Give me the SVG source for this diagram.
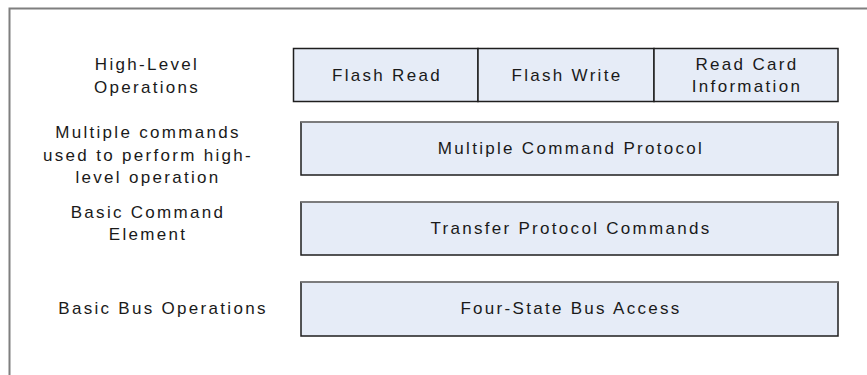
<svg xmlns="http://www.w3.org/2000/svg" width="867" height="375" viewBox="0 0 867 375">
<style>
.box{fill:#E6ECF7;stroke:#1e1e1e;stroke-width:1.5}
.edge{stroke:#8a8a8a;stroke-width:1.5}
.t{font-family:"Liberation Sans",Arial,sans-serif;font-size:17px;fill:#1a1a1a;letter-spacing:2.3px;text-anchor:middle}
.frame{fill:none;stroke:#7f7f7f;stroke-width:2}
</style>
<rect width="867" height="375" fill="#ffffff"/>
<path class="frame" d="M9.5 375 V8.5 H867"/>
<g id="label-high-level">
<text class="t" x="147" y="70">High-Level</text>
<text class="t" x="147" y="93">Operations</text>
</g>
<g id="label-multiple">
<text class="t" x="148" y="138">Multiple commands</text>
<text class="t" x="148" y="161">used to perform high-</text>
<text class="t" x="148" y="183">level operation</text>
</g>
<g id="label-basic-command">
<text class="t" x="148" y="218">Basic Command</text>
<text class="t" x="148" y="240">Element</text>
</g>
<g id="label-basic-bus">
<text class="t" x="163" y="314">Basic Bus Operations</text>
</g>
<g id="flash-read">
<rect class="box" x="293.5" y="48.5" width="184.5" height="53"/>
<text class="t" x="387" y="81">Flash Read</text>
</g>
<g id="flash-write">
<rect class="box" x="478" y="48.5" width="176" height="53"/>
<text class="t" x="567" y="81">Flash Write</text>
</g>
<g id="read-card-info">
<rect class="box" x="654" y="48.5" width="184" height="53"/>
<text class="t" x="747" y="70">Read Card</text>
<text class="t" x="747" y="92">Information</text>
</g>
<g id="multiple-command-protocol">
<rect class="box" x="301" y="122" width="537" height="53"/>
<line class="edge" x1="301" y1="122" x2="838" y2="122"/>
<text class="t" x="571" y="154">Multiple Command Protocol</text>
</g>
<g id="transfer-protocol-commands">
<rect class="box" x="301" y="202" width="537" height="53"/>
<line class="edge" x1="301" y1="202" x2="838" y2="202"/>
<text class="t" x="571" y="234">Transfer Protocol Commands</text>
</g>
<g id="four-state-bus-access">
<rect class="box" x="301" y="282" width="537" height="54"/>
<line class="edge" x1="301" y1="282" x2="838" y2="282"/>
<text class="t" x="571" y="314">Four-State Bus Access</text>
</g>
<g id="connectors"></g>
</svg>
